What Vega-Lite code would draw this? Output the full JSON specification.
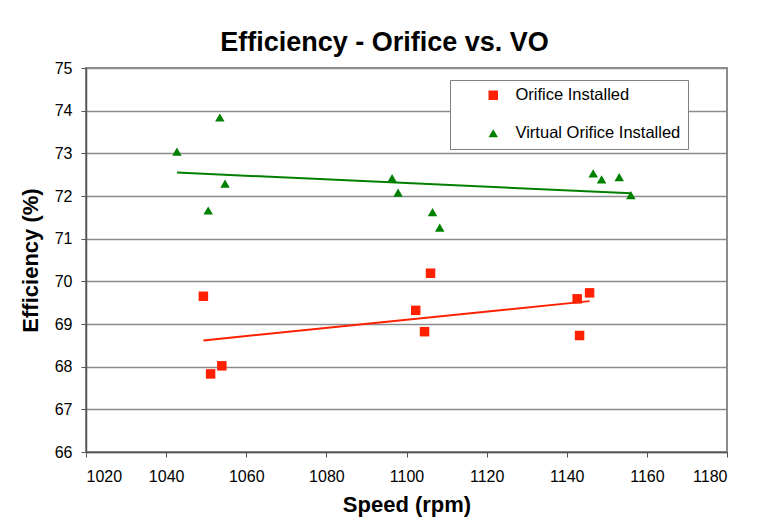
{
  "$schema": "https://vega.github.io/schema/vega-lite/v6.json",
  "width": 641,
  "height": 384,
  "autosize": {"type": "none"},
  "padding": {"left": 86, "top": 68, "right": 44, "bottom": 67},
  "background": "white",
  "title": {
    "text": "Efficiency - Orifice vs. VO",
    "fontSize": 27,
    "fontWeight": "bold",
    "font": "Liberation Sans",
    "color": "black",
    "offset": 3,
    "dx": -22
  },
  "data": {
    "values": [
      {"series": "Orifice Installed", "speed": 1049.3, "eff": 69.65},
      {"series": "Orifice Installed", "speed": 1051.1, "eff": 67.83},
      {"series": "Orifice Installed", "speed": 1053.9, "eff": 68.02},
      {"series": "Orifice Installed", "speed": 1102.3, "eff": 69.32},
      {"series": "Orifice Installed", "speed": 1104.5, "eff": 68.82},
      {"series": "Orifice Installed", "speed": 1106.0, "eff": 70.19},
      {"series": "Orifice Installed", "speed": 1142.6, "eff": 69.59},
      {"series": "Orifice Installed", "speed": 1143.2, "eff": 68.73},
      {"series": "Orifice Installed", "speed": 1145.7, "eff": 69.73},
      {"series": "Virtual Orifice Installed", "speed": 1042.7, "eff": 73.04},
      {"series": "Virtual Orifice Installed", "speed": 1053.4, "eff": 73.84},
      {"series": "Virtual Orifice Installed", "speed": 1050.5, "eff": 71.66},
      {"series": "Virtual Orifice Installed", "speed": 1054.7, "eff": 72.29},
      {"series": "Virtual Orifice Installed", "speed": 1096.4, "eff": 72.42},
      {"series": "Virtual Orifice Installed", "speed": 1097.9, "eff": 72.08},
      {"series": "Virtual Orifice Installed", "speed": 1106.5, "eff": 71.62},
      {"series": "Virtual Orifice Installed", "speed": 1108.3, "eff": 71.26},
      {"series": "Virtual Orifice Installed", "speed": 1146.6, "eff": 72.53},
      {"series": "Virtual Orifice Installed", "speed": 1148.7, "eff": 72.39},
      {"series": "Virtual Orifice Installed", "speed": 1153.1, "eff": 72.44},
      {"series": "Virtual Orifice Installed", "speed": 1156.0, "eff": 72.02}
    ]
  },
  "layer": [
    {
      "transform": [
        {"filter": "datum.series === 'Orifice Installed'"},
        {"regression": "eff", "on": "speed"}
      ],
      "mark": {"type": "line", "color": "#ff2000", "strokeWidth": 2},
      "encoding": {
        "x": {"field": "speed", "type": "quantitative"},
        "y": {"field": "eff", "type": "quantitative"}
      }
    },
    {
      "transform": [
        {"filter": "datum.series === 'Virtual Orifice Installed'"},
        {"regression": "eff", "on": "speed"}
      ],
      "mark": {"type": "line", "color": "#008000", "strokeWidth": 2},
      "encoding": {
        "x": {"field": "speed", "type": "quantitative"},
        "y": {"field": "eff", "type": "quantitative"}
      }
    },
    {
      "mark": {"type": "point", "filled": true, "opacity": 1, "size": 90},
      "encoding": {
        "x": {
          "field": "speed",
          "type": "quantitative",
          "title": "Speed (rpm)",
          "scale": {"domain": [1020, 1180], "nice": false, "zero": false},
          "axis": {"values": [1020, 1040, 1060, 1080, 1100, 1120, 1140, 1160, 1180], "grid": false, "format": "d"}
        },
        "y": {
          "field": "eff",
          "type": "quantitative",
          "title": "Efficiency (%)",
          "scale": {"domain": [66, 75], "nice": false, "zero": false},
          "axis": {"values": [66, 67, 68, 69, 70, 71, 72, 73, 74, 75], "grid": true, "format": "d"}
        },
        "color": {
          "field": "series",
          "type": "nominal",
          "scale": {"domain": ["Orifice Installed", "Virtual Orifice Installed"], "range": ["#ff2000", "#008000"]},
          "legend": {
            "title": null,
            "orient": "none",
            "legendX": 364,
            "legendY": 12,
            "fillColor": "white",
            "strokeColor": "#808080",
            "padding": 7,
            "rowPadding": 21,
            "symbolOffset": 28,
            "labelOffset": 14,
            "labelFontSize": 16.5,
            "labelFont": "Liberation Sans",
            "labelColor": "black",
            "labelLimit": 400,
            "symbolSize": 90
          }
        },
        "shape": {
          "field": "series",
          "type": "nominal",
          "scale": {"domain": ["Orifice Installed", "Virtual Orifice Installed"], "range": ["square", "triangle-up"]}
        }
      }
    }
  ],
  "config": {
    "font": "Liberation Sans",
    "view": {"stroke": "#8c8c8c", "strokeWidth": 2},
    "axis": {
      "labelFont": "Liberation Sans",
      "labelFontSize": 16,
      "labelColor": "black",
      "titleFont": "Liberation Sans",
      "titleFontSize": 22,
      "titleFontWeight": "bold",
      "titleColor": "black",
      "tickSize": 5,
      "tickColor": "#555555",
      "domainColor": "#555555",
      "domainWidth": 1.5,
      "gridColor": "#8c8c8c",
      "gridWidth": 1.5,
      "gridOpacity": 1
    },
    "axisX": {"labelPadding": 11, "titlePadding": 10},
    "axisY": {"labelPadding": 9, "titlePadding": 12}
  }
}
